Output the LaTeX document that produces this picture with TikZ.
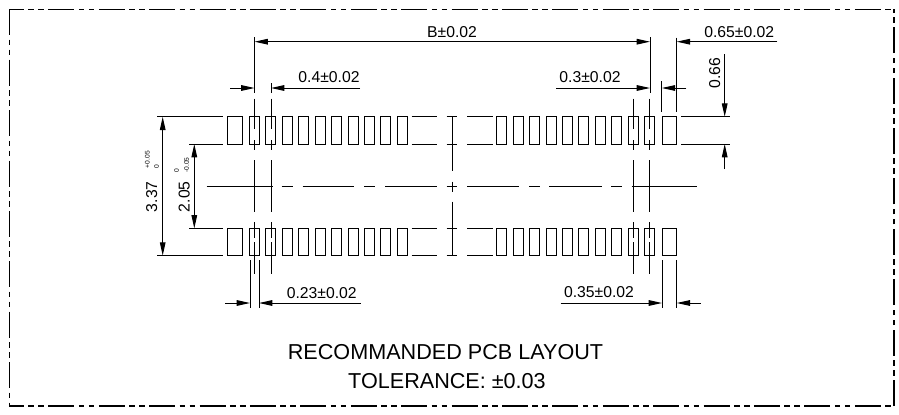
\documentclass[tikz,border=0pt]{standalone}
\usepackage{fontspec}
\setmainfont{Liberation Sans}
\usetikzlibrary{arrows.meta}
\tikzset{
  outline/.style={line width=0.75pt},
  framed/.style={line width=0.8pt,dash pattern=on 19.5pt off 3.3pt on 4.2pt off 3.3pt on 4.2pt off 3.3pt},
  dimline/.style={line width=0.75pt,-{Triangle[length=10pt,width=4.2pt]}},
  dimtext/.style={inner sep=0.75pt,font=\fontsize{11.8}{13}\selectfont},
  tinytext/.style={inner sep=0pt,rotate=90,font=\fontsize{5}{6}\selectfont},
  notetext/.style={inner sep=0.75pt,font=\fontsize{16.2}{18}\selectfont}
}
\begin{document}
\begin{tikzpicture}[x=0.75pt,y=0.75pt,yscale=-1,xscale=1]
\useasboundingbox (0,0) rectangle (899,414);

%Shape: Frame
\draw [framed, dash phase=8.5pt] (9.3,9.3) -- (894,9.3) ;
\draw [framed, dash phase=8.5pt] (9.3,406) -- (894,406) ;
\draw [framed] (9.3,9.3) -- (9.3,406) ;
\draw [framed] (894,406) -- (894,9.3) ;

%Shape: Pads top left
\draw [outline] (227.3,116.8) rectangle ++(15,27.2) (249.3,116.8) rectangle ++(10,27.2) (265.75,116.8) rectangle ++(10,27.2) (282.2,116.8) rectangle ++(10,27.2) (298.65,116.8) rectangle ++(10,27.2) (315.1,116.8) rectangle ++(10,27.2) (331.55,116.8) rectangle ++(10,27.2) (348,116.8) rectangle ++(10,27.2) (364.45,116.8) rectangle ++(10,27.2) (380.9,116.8) rectangle ++(10,27.2) (397.35,116.8) rectangle ++(10,27.2) ;
%Shape: Pads top right
\draw [outline] (496.7,116.8) rectangle ++(10,27.2) (513.15,116.8) rectangle ++(10,27.2) (529.6,116.8) rectangle ++(10,27.2) (546.05,116.8) rectangle ++(10,27.2) (562.5,116.8) rectangle ++(10,27.2) (578.95,116.8) rectangle ++(10,27.2) (595.4,116.8) rectangle ++(10,27.2) (611.85,116.8) rectangle ++(10,27.2) (628.3,116.8) rectangle ++(10,27.2) (644.75,116.8) rectangle ++(10,27.2) (662,116.8) rectangle ++(14.7,27.2) ;
%Shape: Pads bottom left
\draw [outline] (227.3,228.4) rectangle ++(15,27.2) (249.3,228.4) rectangle ++(10,27.2) (265.75,228.4) rectangle ++(10,27.2) (282.2,228.4) rectangle ++(10,27.2) (298.65,228.4) rectangle ++(10,27.2) (315.1,228.4) rectangle ++(10,27.2) (331.55,228.4) rectangle ++(10,27.2) (348,228.4) rectangle ++(10,27.2) (364.45,228.4) rectangle ++(10,27.2) (380.9,228.4) rectangle ++(10,27.2) (397.35,228.4) rectangle ++(10,27.2) ;
%Shape: Pads bottom right
\draw [outline] (496.7,228.4) rectangle ++(10,27.2) (513.15,228.4) rectangle ++(10,27.2) (529.6,228.4) rectangle ++(10,27.2) (546.05,228.4) rectangle ++(10,27.2) (562.5,228.4) rectangle ++(10,27.2) (578.95,228.4) rectangle ++(10,27.2) (595.4,228.4) rectangle ++(10,27.2) (611.85,228.4) rectangle ++(10,27.2) (628.3,228.4) rectangle ++(10,27.2) (644.75,228.4) rectangle ++(10,27.2) (662,228.4) rectangle ++(14.7,27.2) ;

%Straight Lines: Pad row edges
\draw [outline] (411.7,116.8) -- (436.7,116.8)(411.7,144) -- (436.7,144)(411.7,228.4) -- (436.7,228.4)(411.7,255.6) -- (436.7,255.6) ;
\draw [outline] (467.3,116.8) -- (493.3,116.8)(467.3,144) -- (493.3,144)(467.3,228.4) -- (493.3,228.4)(467.3,255.6) -- (493.3,255.6) ;
\draw [outline] (446.7,116.8) -- (457,116.8)(446.7,144) -- (457,144)(446.7,228.4) -- (457,228.4)(446.7,255.6) -- (457,255.6) ;
\draw [outline] (452,116.8) -- (452,171)(452,181.7) -- (452,191.7)(452,201.7) -- (452,255.6)(446.7,186.6) -- (457,186.6) ;

%Straight Lines: Center line
\draw [outline] (206.7,186.6) -- (272.7,186.6)(281.7,186.6) -- (293.3,186.6)(302.7,186.6) -- (354.3,186.6)(364.3,186.6) -- (375.3,186.6)(385,186.6) -- (436.7,186.6) ;
\draw [outline] (467.3,186.6) -- (519.3,186.6)(529,186.6) -- (540,186.6)(549.3,186.6) -- (601.7,186.6)(611,186.6) -- (622.3,186.6)(631.7,186.6) -- (697.3,186.6) ;

%Straight Lines: Pad axes
\draw [outline] (254.5,98.5) -- (254.5,129)(254.5,140) -- (254.5,150)(254.5,160) -- (254.5,211.7)(254.5,222.3) -- (254.5,238)(254.5,242) -- (254.5,274.3) ;
\draw [outline] (271,98.5) -- (271,129)(271,140) -- (271,150)(271,160) -- (271,211.7)(271,222.3) -- (271,238)(271,242) -- (271,274.3) ;
\draw [outline] (633,98.5) -- (633,129)(633,140) -- (633,150)(633,160) -- (633,211.7)(633,222.3) -- (633,238)(633,242) -- (633,274.3) ;
\draw [outline] (649.7,98.5) -- (649.7,129)(649.7,140) -- (649.7,150)(649.7,160) -- (649.7,211.7)(649.7,222.3) -- (649.7,238)(649.7,242) -- (649.7,274.3) ;

%Straight Lines: Extension lines
\draw [outline] (254.5,37.3) -- (254.5,93)(650,37.3) -- (650,93)(271,83.3) -- (271,93.3)(661.8,81) -- (661.8,111.7)(676.7,37.7) -- (676.7,111.7) ;
\draw [outline] (250,260) -- (250,308.3)(259,260) -- (259,308.3)(662,260) -- (662,308.3)(676.7,260) -- (676.7,308.3) ;
\draw [outline] (157.3,116.8) -- (222.7,116.8)(157.3,255.6) -- (222.7,255.6)(189,144) -- (222.7,144)(189,228.4) -- (222.7,228.4) ;
\draw [outline] (681,116.8) -- (730,116.8)(681,144) -- (730,144) ;

%Straight Lines: Dimensions on top
\draw [dimline] (452,41.7) -- (254.5,41.7) ;
\draw [dimline] (452,41.7) -- (650,41.7) ;
\draw [dimline] (777.3,41.7) -- (676.7,41.7) ;
\draw [dimline] (230,88) -- (254.5,88) ;
\draw [dimline] (360,88) -- (271,88) ;
\draw [dimline] (556,88) -- (650,88) ;
\draw [dimline] (686.3,88) -- (661.8,88) ;
%Straight Lines: Dimensions on bottom
\draw [dimline] (225,303) -- (250,303) ;
\draw [dimline] (360.7,303) -- (259,303) ;
\draw [dimline] (560.7,303) -- (662,303) ;
\draw [dimline] (700.7,303) -- (676.7,303) ;
%Straight Lines: Dimensions on the sides
\draw [dimline] (162.7,186.6) -- (162.7,116.8) ;
\draw [dimline] (162.7,186.6) -- (162.7,255.6) ;
\draw [dimline] (194.3,186.6) -- (194.3,144) ;
\draw [dimline] (194.3,186.6) -- (194.3,228.4) ;
\draw [dimline] (724.7,54.3) -- (724.7,116.8) ;
\draw [dimline] (724.7,169) -- (724.7,144) ;

% Text Node
\draw (452,32) node [dimtext] (widthb) {B±0.02};
% Text Node
\draw (329,77.5) node [dimtext] (pitchl) {0.4±0.02};
% Text Node
\draw (590,77.5) node [dimtext] (pitchr) {0.3±0.02};
% Text Node
\draw (739.3,31.7) node [dimtext] (padw) {0.65±0.02};
% Text Node
\draw (714.7,73) node [dimtext, rotate=90] (padh) {0.66};
% Text Node
\draw (321.7,292.7) node [dimtext] (gapl) {0.23±0.02};
% Text Node
\draw (599,292.5) node [dimtext] (gapr) {0.35±0.02};
% Text Node
\draw (151.7,196.7) node [dimtext, rotate=90] (outer) {3.37};
% Text Node
\draw (147.3,168.3) node [tinytext, anchor=west] (outerp) {+0.05};
% Text Node
\draw (156.7,168.3) node [tinytext, anchor=west] (outerm) {0};
% Text Node
\draw (184.3,196.7) node [dimtext, rotate=90] (inner) {2.05};
% Text Node
\draw (176.7,173) node [tinytext, anchor=west] (innerp) {0};
% Text Node
\draw (186.7,173) node [tinytext, anchor=west] (innerm) {-0.05};
% Text Node
\draw (445.5,352.3) node [notetext] (title) {RECOMMANDED PCB LAYOUT};
% Text Node
\draw (447,380.7) node [notetext] (tolerance) {TOLERANCE: ±0.03};

\end{tikzpicture}
\end{document}
